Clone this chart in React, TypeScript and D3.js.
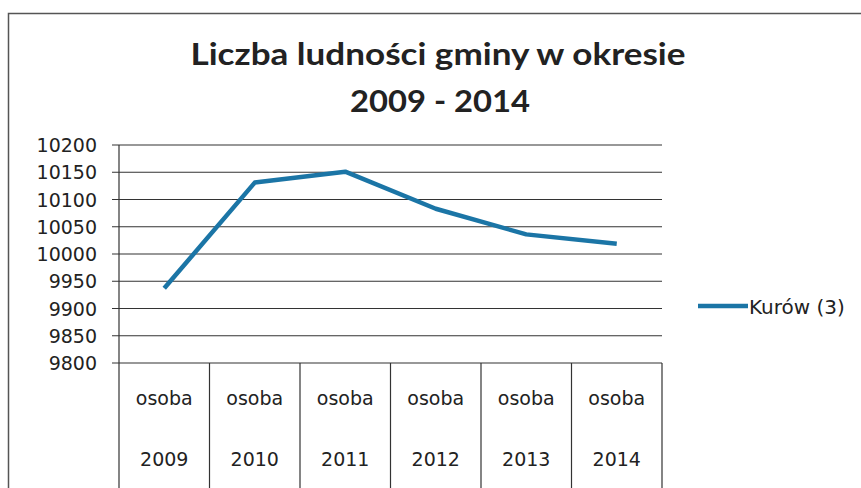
import React, { useEffect, useRef } from "react";
import * as d3 from "d3";

const titleLines = ["Liczba ludności gminy w okresie", "2009 - 2014"];
const years = ["2009", "2010", "2011", "2012", "2013", "2014"];
const unitLabel = "osoba";
const seriesName = "Kurów (3)";
const population = [9937, 10131, 10151, 10083, 10036, 10019];
const yTicks = [9800, 9850, 9900, 9950, 10000, 10050, 10100, 10150, 10200];

const App = () => {
  const ref = useRef<SVGSVGElement>(null);

  useEffect(() => {
    const width = 861;
    const height = 488;
    const left = 119;
    const right = 662;
    const top = 145;
    const bottom = 363;
    const lineColor = "#1b75a6";
    const textColor = "#222";
    const font = "'DejaVu Sans', Verdana, sans-serif";

    const svg = d3.select(ref.current);
    svg.selectAll("*").remove();

    svg
      .append("rect")
      .attr("width", width)
      .attr("height", height)
      .attr("fill", "#fff");

    // outer chart frame (runs off the right and bottom edges)
    svg
      .append("rect")
      .attr("x", 8.5)
      .attr("y", 13.5)
      .attr("width", 900)
      .attr("height", 600)
      .attr("fill", "none")
      .attr("stroke", "#555")
      .attr("stroke-width", 1.5);

    const title = svg
      .append("g")
      .attr("font-family", "Lato, 'Open Sans', sans-serif")
      .attr("font-weight", "bold")
      .attr("font-size", 31)
      .attr("fill", textColor)
      .attr("text-anchor", "middle");
    title
      .append("text")
      .attr("x", 438)
      .attr("y", 65)
      .attr("textLength", 495)
      .attr("lengthAdjust", "spacingAndGlyphs")
      .text(titleLines[0]);
    title
      .append("text")
      .attr("x", 440)
      .attr("y", 112)
      .attr("textLength", 180)
      .attr("lengthAdjust", "spacingAndGlyphs")
      .text(titleLines[1]);

    const x = d3.scaleBand().domain(years).range([left, right]);
    const y = d3
      .scaleLinear()
      .domain([yTicks[0], yTicks[yTicks.length - 1]])
      .range([bottom, top]);

    // gridlines + tick stubs
    svg
      .append("g")
      .attr("stroke", "#333")
      .attr("stroke-width", 1.2)
      .selectAll("line")
      .data(yTicks)
      .join("line")
      .attr("x1", left - 7)
      .attr("x2", right)
      .attr("y1", (d) => y(d))
      .attr("y2", (d) => y(d));

    svg
      .append("g")
      .attr("font-family", font)
      .attr("font-size", 19)
      .attr("fill", textColor)
      .attr("text-anchor", "end")
      .selectAll("text")
      .data(yTicks)
      .join("text")
      .attr("x", 97)
      .attr("y", (d) => y(d) + 7)
      .text((d) => String(d));

    // category table: axis + separators
    const bounds = [left, ...years.map((d) => x(d)! + x.bandwidth())];
    svg
      .append("g")
      .attr("stroke", "#333")
      .attr("stroke-width", 1.2)
      .selectAll("line")
      .data(bounds)
      .join("line")
      .attr("x1", (d) => d)
      .attr("x2", (d) => d)
      .attr("y1", (d, i) => (i === 0 ? top : bottom))
      .attr("y2", height);

    const cats = svg
      .append("g")
      .attr("font-family", font)
      .attr("font-size", 19)
      .attr("fill", textColor)
      .attr("text-anchor", "middle")
      .selectAll("g")
      .data(years)
      .join("g")
      .attr("transform", (d) => `translate(${x(d)! + x.bandwidth() / 2}, 0)`);
    cats.append("text").attr("y", 405).text(unitLabel);
    cats.append("text").attr("y", 466).text((d) => d);

    const line = d3
      .line<number>()
      .x((d, i) => x(years[i])! + x.bandwidth() / 2)
      .y((d) => y(d));

    svg
      .append("path")
      .datum(population)
      .attr("d", line)
      .attr("fill", "none")
      .attr("stroke", lineColor)
      .attr("stroke-width", 4.5)
      .attr("stroke-linejoin", "round");

    // legend
    svg
      .append("line")
      .attr("x1", 698)
      .attr("x2", 748)
      .attr("y1", 306)
      .attr("y2", 306)
      .attr("stroke", lineColor)
      .attr("stroke-width", 4.5);
    svg
      .append("text")
      .attr("x", 749)
      .attr("y", 314)
      .attr("font-family", font)
      .attr("font-size", 20)
      .attr("fill", textColor)
      .text(seriesName);
  }, []);

  return (
    <svg
      ref={ref}
      width={861}
      height={488}
      style={{ position: "absolute", left: 0, top: 0 }}
    ></svg>
  );
};

export default App;
